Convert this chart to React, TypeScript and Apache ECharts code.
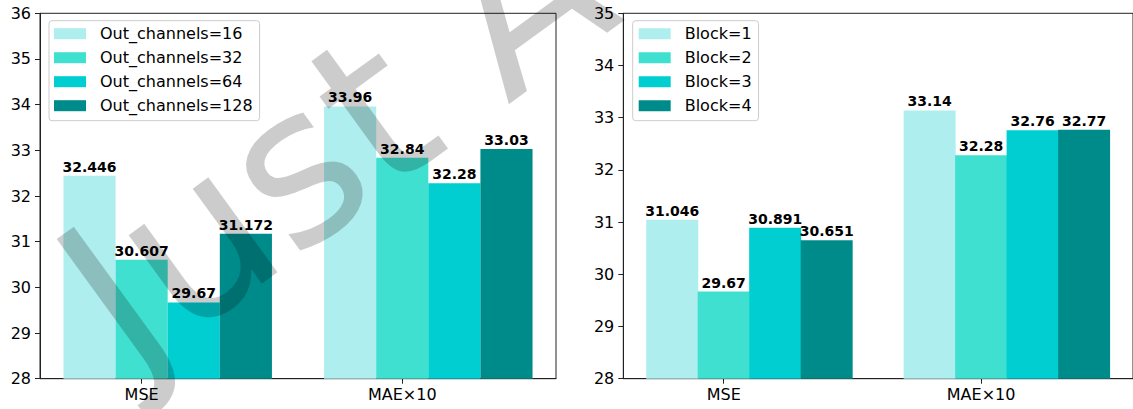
import React, { useEffect, useRef } from "react";
import * as echarts from "echarts";

// Metric groups on the x axis
const CATEGORIES = ["MSE", "MAE×10"];

// Left panel: output channel sweep
const OUT_CHANNEL_NAMES = [
  "Out_channels=16",
  "Out_channels=32",
  "Out_channels=64",
  "Out_channels=128",
];
const OUT_CHANNEL_VALUES = [
  [32.446, 33.96],
  [30.607, 32.84],
  [29.67, 32.28],
  [31.172, 33.03],
];

// Right panel: block count sweep
const BLOCK_NAMES = ["Block=1", "Block=2", "Block=3", "Block=4"];
const BLOCK_VALUES = [
  [31.046, 33.14],
  [29.67, 32.28],
  [30.891, 32.76],
  [30.651, 32.77],
];

// y ranges of the two panels
const LEFT_Y_RANGE = [28, 36];
const RIGHT_Y_RANGE = [28, 35];

const COLORS = ["#AFEEEE", "#40E0D0", "#00CED1", "#008B8B"];

const FONT = "DejaVu Sans";
const BAR_STEP = 0.2; // width of one bar in category units
const X_MIN = -0.39;
const X_MAX = 1.59;

const GRID_TOP = 13.3;
const GRID_HEIGHT = 365.4;
const GRIDS = [
  { left: 40, width: 516 },
  { left: 623.3, width: 515 },
];

function buildSeries(names: string[], values: number[][], axisIndex: number) {
  const barWidth = (GRIDS[axisIndex].width / (X_MAX - X_MIN)) * BAR_STEP;
  return names.map((name, s) => ({
    type: "bar",
    name,
    xAxisIndex: axisIndex,
    yAxisIndex: axisIndex,
    barWidth,
    barGap: "-100%",
    itemStyle: { color: COLORS[s] },
    label: {
      show: true,
      position: "top",
      distance: 2,
      color: "#000",
      fontFamily: FONT,
      fontWeight: "bold",
      fontSize: 14,
      formatter: (p: any) => String(p.value[1]),
    },
    data: values[s].map((v, c) => [c + (s - 1) * BAR_STEP, v]),
  }));
}

function xAxis(gridIndex: number) {
  const ticks = CATEGORIES.map((_, i) => i);
  return {
    type: "value",
    gridIndex,
    min: X_MIN,
    max: X_MAX,
    splitLine: { show: false },
    axisLine: { show: true, onZero: false, lineStyle: { color: "#222", width: 1 } },
    axisTick: {
      show: true,
      customValues: ticks,
      length: 5,
      lineStyle: { color: "#222" },
    },
    axisLabel: {
      customValues: ticks,
      formatter: (v: number) => CATEGORIES[Math.round(v)] ?? "",
      color: "#000",
      fontFamily: FONT,
      fontSize: 16,
      margin: 8,
    },
  };
}

function yAxis(gridIndex: number, range: number[]) {
  return {
    type: "value",
    gridIndex,
    min: range[0],
    max: range[1],
    interval: 1,
    splitLine: { show: false },
    axisLine: { show: true, onZero: false, lineStyle: { color: "#222", width: 1 } },
    axisTick: { show: true, length: 5, lineStyle: { color: "#222" } },
    axisLabel: {
      color: "#000",
      fontFamily: FONT,
      fontSize: 16,
      margin: 9,
    },
  };
}

function legend(names: string[], left: number, padLeft: number) {
  return {
    data: names,
    orient: "vertical",
    left,
    top: 20.7,
    icon: "rect",
    itemWidth: 32,
    itemHeight: 11,
    itemGap: 8,
    padding: [5, 7, 7, padLeft],
    selectedMode: false,
    backgroundColor: "rgba(255,255,255,0.8)",
    borderColor: "#cccccc",
    borderWidth: 1,
    borderRadius: 3,
    textStyle: {
      color: "#000",
      fontFamily: FONT,
      fontSize: 16,
      padding: [0, 0, 0, 9],
    },
  };
}

export default function App() {
  const ref = useRef<HTMLDivElement>(null);

  useEffect(() => {
    if (!ref.current) return;
    const chart = echarts.init(ref.current, undefined, { renderer: "svg" });
    chart.setOption({
      animation: false,
      backgroundColor: "#fff",
      grid: GRIDS.map((g) => ({
        left: g.left,
        top: GRID_TOP,
        width: g.width,
        height: GRID_HEIGHT,
        show: true,
        borderColor: "#222",
        borderWidth: 1,
        containLabel: false,
      })),
      xAxis: [xAxis(0), xAxis(1)],
      yAxis: [yAxis(0, LEFT_Y_RANGE), yAxis(1, RIGHT_Y_RANGE)],
      legend: [legend(OUT_CHANNEL_NAMES, 49, 5), legend(BLOCK_NAMES, 632.7, 6)],
      series: [
        ...buildSeries(OUT_CHANNEL_NAMES, OUT_CHANNEL_VALUES, 0),
        ...buildSeries(BLOCK_NAMES, BLOCK_VALUES, 1),
      ],
      graphic: [
        {
          // diagonal translucent stamp across the left panel
          type: "text",
          x: 88,
          y: 318,
          rotation: (36 * Math.PI) / 180,
          silent: true,
          z: 100,
          style: {
            text: "Just A",
            fontFamily: FONT,
            fontSize: 215,
            fill: "rgba(0,0,0,0.2)",
            align: "left",
            verticalAlign: "middle",
          },
        },
      ],
    });
    return () => chart.dispose();
  }, []);

  return (
    <div
      ref={ref}
      style={{ position: "fixed", left: 0, top: 0, width: 1133, height: 409 }}
    />
  );
}
